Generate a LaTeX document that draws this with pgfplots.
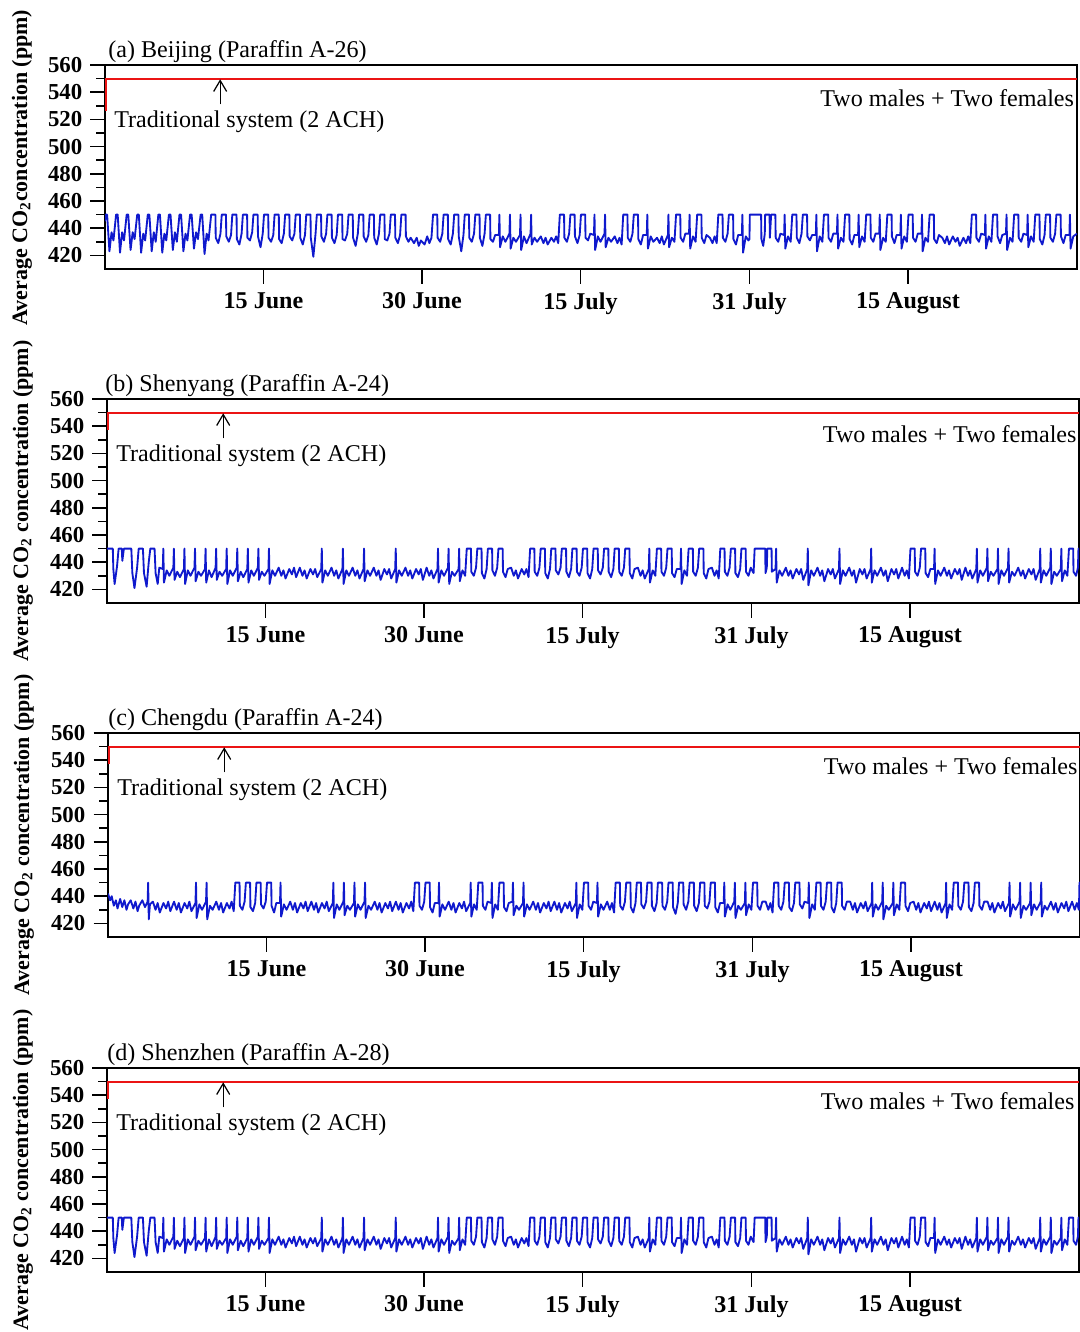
\documentclass[border=0pt]{standalone}
\usepackage{fontspec}
\setmainfont{Liberation Serif}
\usepackage{pgfplots}
\usepackage{pgfplotstable}
\usetikzlibrary{arrows.meta}
\pgfplotsset{compat=1.18}
\definecolor{lineblue}{RGB}{15,25,205}
\definecolor{limred}{RGB}{235,20,20}

\pgfplotstableread[row sep=\\]{
x y\\
0 445\\
0.05 450\\ 0.2 450\\ 0.42 423\\ 0.62 437\\ 0.8 431\\
1.05 450\\ 1.2 450\\ 1.42 422\\ 1.62 437\\ 1.8 431\\
2.05 450\\ 2.2 450\\ 2.42 424\\ 2.62 437\\ 2.8 432\\
3.05 450\\ 3.2 450\\ 3.42 422\\ 3.62 436\\ 3.8 431\\
4.05 450\\ 4.2 450\\ 4.42 423\\ 4.62 437\\ 4.8 430\\
5.05 450\\ 5.2 450\\ 5.42 422\\ 5.62 436\\ 5.8 431\\
6.05 450\\ 6.2 450\\ 6.42 424\\ 6.62 437\\ 6.8 430\\
7.05 450\\ 7.2 450\\ 7.42 423\\ 7.62 436\\ 7.8 431\\
8.05 450\\ 8.2 450\\ 8.42 425\\ 8.62 437\\ 8.8 432\\
9.05 450\\ 9.2 450\\ 9.42 421\\ 9.62 436\\ 9.8 431\\
10.05 450\\ 10.45 450\\ 10.48 433\\ 10.72 429\\ 10.93 436\\
11.05 450\\ 11.45 450\\ 11.48 434\\ 11.72 430\\ 11.93 435\\
12.05 450\\ 12.45 450\\ 12.48 432\\ 12.72 428\\ 12.93 436\\
13.05 450\\ 13.45 450\\ 13.48 433\\ 13.72 431\\ 13.93 437\\
14.05 450\\ 14.45 450\\ 14.48 434\\ 14.72 426\\ 14.93 436\\
15.05 450\\ 15.45 450\\ 15.48 433\\ 15.72 430\\ 15.93 435\\
16.05 450\\ 16.45 450\\ 16.48 432\\ 16.72 429\\ 16.93 436\\
17.05 450\\ 17.45 450\\ 17.48 434\\ 17.72 431\\ 17.93 436\\
18.05 450\\ 18.45 450\\ 18.48 433\\ 18.72 428\\ 18.93 435\\
19.05 450\\ 19.45 450\\ 19.48 433\\ 19.72 419\\ 19.93 436\\
20.05 450\\ 20.45 450\\ 20.48 434\\ 20.72 430\\ 20.93 436\\
21.05 450\\ 21.45 450\\ 21.48 433\\ 21.72 429\\ 21.93 435\\
22.05 450\\ 22.45 450\\ 22.48 432\\ 22.72 431\\ 22.93 436\\
23.05 450\\ 23.45 450\\ 23.48 433\\ 23.72 427\\ 23.93 436\\
24.05 450\\ 24.45 450\\ 24.48 434\\ 24.72 430\\ 24.93 435\\
25.05 450\\ 25.45 450\\ 25.48 433\\ 25.72 428\\ 25.93 436\\
26.05 450\\ 26.45 450\\ 26.48 432\\ 26.72 431\\ 26.93 436\\
27.05 450\\ 27.45 450\\ 27.48 433\\ 27.72 429\\ 27.93 435\\
28.05 450\\ 28.45 450\\ 28.48 434\\ 28.72 430\\ 28.93 433\\
29.25 429\\ 29.5 433\\ 29.7 427\\ 29.9 431\\
30.25 428\\ 30.5 434\\ 30.7 429\\ 30.9 433\\
31.05 450\\ 31.45 450\\ 31.48 433\\ 31.72 430\\ 31.93 436\\
32.05 450\\ 32.45 450\\ 32.48 432\\ 32.72 428\\ 32.93 436\\
33.05 450\\ 33.45 450\\ 33.48 434\\ 33.72 423\\ 33.93 435\\
34.05 450\\ 34.45 450\\ 34.48 433\\ 34.72 430\\ 34.93 436\\
35.05 450\\ 35.45 450\\ 35.48 433\\ 35.72 427\\ 35.93 436\\
36.05 450\\ 36.45 450\\ 36.48 432\\ 36.72 430\\ 36.93 435\\
37.28 435\\ 37.33 450\\ 37.39 426\\ 37.65 434\\ 37.9 430\\
38.28 436\\ 38.33 450\\ 38.39 425\\ 38.65 433\\ 38.9 430\\
39.28 435\\ 39.33 450\\ 39.39 424\\ 39.65 434\\ 39.9 429\\
40.28 436\\ 40.33 450\\ 40.39 428\\ 40.65 433\\ 40.9 430\\
41.25 434\\ 41.5 429\\ 41.7 433\\ 41.9 428\\
42.25 433\\ 42.5 430\\ 42.7 434\\ 42.9 429\\
43.05 450\\ 43.45 450\\ 43.48 433\\ 43.72 430\\ 43.93 436\\
44.05 450\\ 44.45 450\\ 44.48 434\\ 44.72 429\\ 44.93 435\\
45.05 450\\ 45.45 450\\ 45.48 433\\ 45.72 431\\ 45.93 436\\
46.28 435\\ 46.33 450\\ 46.39 424\\ 46.65 434\\ 46.9 430\\
47.28 436\\ 47.33 450\\ 47.39 426\\ 47.65 433\\ 47.9 430\\
48.25 434\\ 48.5 429\\ 48.7 433\\ 48.9 428\\
49.05 450\\ 49.45 450\\ 49.48 433\\ 49.72 430\\ 49.93 436\\
50.05 450\\ 50.45 450\\ 50.48 432\\ 50.72 428\\ 50.93 435\\
51.28 435\\ 51.33 450\\ 51.39 425\\ 51.65 434\\ 51.9 430\\
52.25 433\\ 52.5 429\\ 52.7 434\\ 52.9 428\\
53.28 435\\ 53.33 450\\ 53.39 426\\ 53.65 433\\ 53.9 430\\
54.05 450\\ 54.45 450\\ 54.48 433\\ 54.72 430\\ 54.93 436\\
55.28 436\\ 55.33 450\\ 55.39 425\\ 55.65 434\\ 55.9 430\\
56.05 450\\ 56.45 450\\ 56.48 433\\ 56.72 429\\ 56.93 435\\
57.25 433\\ 57.5 429\\ 57.7 434\\ 57.9 429\\
58.05 450\\ 58.45 450\\ 58.48 433\\ 58.72 430\\ 58.93 436\\
59.05 450\\ 59.45 450\\ 59.48 432\\ 59.72 428\\ 59.93 435\\
60.28 435\\ 60.33 450\\ 60.39 422\\ 60.65 434\\ 60.9 431\\
61.0 432\\ 61.03 450\\ 62.1 450\\ 62.13 432\\ 62.3 427\\ 62.45 436\\ 62.48 450\\ 62.9 450\\ 62.93 433\\
63.05 450\\ 63.45 450\\ 63.48 433\\ 63.72 430\\ 63.93 436\\
64.28 435\\ 64.33 450\\ 64.39 425\\ 64.65 434\\ 64.9 430\\
65.05 450\\ 65.45 450\\ 65.48 433\\ 65.72 429\\ 65.93 436\\
66.05 450\\ 66.45 450\\ 66.48 434\\ 66.72 431\\ 66.93 435\\
67.28 435\\ 67.33 450\\ 67.39 423\\ 67.65 434\\ 67.9 430\\
68.05 450\\ 68.45 450\\ 68.48 433\\ 68.72 430\\ 68.93 436\\
69.28 436\\ 69.33 450\\ 69.39 425\\ 69.65 433\\ 69.9 430\\
70.05 450\\ 70.45 450\\ 70.48 432\\ 70.72 428\\ 70.93 435\\
71.28 435\\ 71.33 450\\ 71.39 426\\ 71.65 434\\ 71.9 430\\
72.05 450\\ 72.45 450\\ 72.48 433\\ 72.72 430\\ 72.93 436\\
73.28 436\\ 73.33 450\\ 73.39 424\\ 73.65 433\\ 73.9 430\\
74.05 450\\ 74.45 450\\ 74.48 434\\ 74.72 429\\ 74.93 435\\
75.28 435\\ 75.33 450\\ 75.39 425\\ 75.65 434\\ 75.9 430\\
76.05 450\\ 76.45 450\\ 76.48 433\\ 76.72 430\\ 76.93 436\\
77.28 436\\ 77.33 450\\ 77.39 423\\ 77.65 433\\ 77.9 430\\
78.05 450\\ 78.45 450\\ 78.48 432\\ 78.72 429\\ 78.93 435\\
79.25 433\\ 79.5 429\\ 79.7 434\\ 79.9 428\\
80.25 434\\ 80.5 430\\ 80.7 433\\ 80.9 427\\
81.25 433\\ 81.5 429\\ 81.7 434\\ 81.9 429\\
82.05 450\\ 82.45 450\\ 82.48 433\\ 82.72 430\\ 82.93 436\\
83.28 435\\ 83.33 450\\ 83.39 425\\ 83.65 434\\ 83.9 430\\
84.05 450\\ 84.45 450\\ 84.48 434\\ 84.72 429\\ 84.93 435\\
85.28 436\\ 85.33 450\\ 85.39 424\\ 85.65 433\\ 85.9 430\\
86.05 450\\ 86.45 450\\ 86.48 433\\ 86.72 430\\ 86.93 436\\
87.28 435\\ 87.33 450\\ 87.39 426\\ 87.65 434\\ 87.9 430\\
88.05 450\\ 88.45 450\\ 88.48 432\\ 88.72 428\\ 88.93 435\\
89.05 450\\ 89.45 450\\ 89.48 433\\ 89.72 430\\ 89.93 436\\
90.05 450\\ 90.45 450\\ 90.48 434\\ 90.72 429\\ 90.93 435\\
91.28 435\\ 91.33 450\\ 91.39 425\\ 91.65 434\\ 92 436\\
}\tabA

\pgfplotstableread[row sep=\\]{
x y\\
0 450\\ 0.55 450\\ 0.6 435\\ 0.72 424\\ 0.95 437\\
1.1 450\\ 1.4 450\\ 1.45 441\\ 1.6 450\\ 2.3 450\\ 2.4 432\\ 2.6 421\\ 2.85 436\\
3.0 450\\ 3.4 450\\ 3.5 432\\ 3.75 422\\ 3.95 440\\
4.1 450\\ 4.5 450\\ 4.6 432\\ 4.8 424\\ 4.95 436\\
5.28 435\\ 5.33 450\\ 5.39 425\\ 5.65 434\\ 5.9 430\\
6.28 436\\ 6.33 450\\ 6.39 427\\ 6.65 433\\ 6.9 429\\
7.28 435\\ 7.33 450\\ 7.39 424\\ 7.65 434\\ 7.9 430\\
8.28 436\\ 8.33 450\\ 8.39 426\\ 8.65 433\\ 8.9 430\\
9.28 435\\ 9.33 450\\ 9.39 425\\ 9.65 434\\ 9.9 429\\
10.28 436\\ 10.33 450\\ 10.39 427\\ 10.65 433\\ 10.9 430\\
11.28 435\\ 11.33 450\\ 11.39 424\\ 11.65 434\\ 11.9 430\\
12.28 436\\ 12.33 450\\ 12.39 426\\ 12.65 433\\ 12.9 429\\
13.28 435\\ 13.33 450\\ 13.39 425\\ 13.65 434\\ 13.9 430\\
14.28 436\\ 14.33 450\\ 14.39 427\\ 14.65 433\\ 14.9 430\\
15.28 435\\ 15.33 450\\ 15.39 424\\ 15.65 434\\ 15.9 430\\
16.25 436\\ 16.5 430\\ 16.7 434\\ 16.9 428\\
17.25 435\\ 17.5 431\\ 17.7 436\\ 17.9 429\\
18.25 436\\ 18.5 430\\ 18.7 434\\ 18.9 428\\
19.25 435\\ 19.5 431\\ 19.7 435\\ 19.9 429\\
20.28 435\\ 20.33 450\\ 20.39 425\\ 20.65 434\\ 20.9 430\\
21.25 436\\ 21.5 430\\ 21.7 434\\ 21.9 428\\
22.28 435\\ 22.33 450\\ 22.39 424\\ 22.65 434\\ 22.9 430\\
23.25 436\\ 23.5 430\\ 23.7 434\\ 23.9 428\\
24.28 435\\ 24.33 450\\ 24.39 426\\ 24.65 434\\ 24.9 430\\
25.25 436\\ 25.5 430\\ 25.7 434\\ 25.9 427\\
26.25 435\\ 26.5 431\\ 26.7 435\\ 26.9 428\\
27.28 435\\ 27.33 450\\ 27.39 425\\ 27.65 434\\ 27.9 430\\
28.25 436\\ 28.5 430\\ 28.7 434\\ 28.9 428\\
29.25 435\\ 29.5 431\\ 29.7 435\\ 29.9 427\\
30.25 436\\ 30.5 430\\ 30.7 434\\ 30.9 428\\
31.28 435\\ 31.33 450\\ 31.39 425\\ 31.65 434\\ 31.9 430\\
32.28 436\\ 32.33 450\\ 32.39 424\\ 32.65 433\\ 32.9 430\\
33.28 435\\ 33.33 450\\ 33.39 426\\ 33.65 434\\ 33.9 430\\
34.05 450\\ 34.45 450\\ 34.48 433\\ 34.72 430\\ 34.93 436\\
35.05 450\\ 35.45 450\\ 35.48 432\\ 35.72 428\\ 35.93 435\\
36.05 450\\ 36.45 450\\ 36.48 434\\ 36.72 430\\ 36.93 436\\
37.05 450\\ 37.45 450\\ 37.48 433\\ 37.72 429\\ 37.93 435\\
38.25 436\\ 38.5 430\\ 38.7 434\\ 38.9 428\\
39.25 435\\ 39.5 431\\ 39.7 435\\ 39.9 429\\
40.05 450\\ 40.45 450\\ 40.48 433\\ 40.72 430\\ 40.93 436\\
41.05 450\\ 41.45 450\\ 41.48 432\\ 41.72 428\\ 41.93 435\\
42.05 450\\ 42.45 450\\ 42.48 434\\ 42.72 431\\ 42.93 436\\
43.05 450\\ 43.45 450\\ 43.48 433\\ 43.72 429\\ 43.93 435\\
44.05 450\\ 44.45 450\\ 44.48 433\\ 44.72 430\\ 44.93 436\\
45.05 450\\ 45.45 450\\ 45.48 432\\ 45.72 428\\ 45.93 435\\
46.05 450\\ 46.45 450\\ 46.48 434\\ 46.72 431\\ 46.93 436\\
47.05 450\\ 47.45 450\\ 47.48 433\\ 47.72 429\\ 47.93 435\\
48.05 450\\ 48.45 450\\ 48.48 433\\ 48.72 430\\ 48.93 436\\
49.05 450\\ 49.45 450\\ 49.48 432\\ 49.72 428\\ 49.93 435\\
50.25 436\\ 50.5 430\\ 50.7 434\\ 50.9 428\\
51.28 435\\ 51.33 450\\ 51.39 425\\ 51.65 434\\ 51.9 430\\
52.05 450\\ 52.45 450\\ 52.48 433\\ 52.72 430\\ 52.93 436\\
53.05 450\\ 53.45 450\\ 53.48 432\\ 53.72 429\\ 53.93 435\\
54.28 435\\ 54.33 450\\ 54.39 424\\ 54.65 434\\ 54.9 430\\
55.05 450\\ 55.45 450\\ 55.48 433\\ 55.72 430\\ 55.93 436\\
56.05 450\\ 56.45 450\\ 56.48 432\\ 56.72 428\\ 56.93 435\\
57.25 436\\ 57.5 430\\ 57.7 434\\ 57.9 428\\
58.05 450\\ 58.45 450\\ 58.48 433\\ 58.72 430\\ 58.93 436\\
59.05 450\\ 59.45 450\\ 59.48 432\\ 59.72 429\\ 59.93 435\\
60.05 450\\ 60.45 450\\ 60.48 433\\ 60.72 430\\ 60.93 436\\
61.2 432\\ 61.3 450\\ 62.3 450\\ 62.33 432\\ 62.45 436\\ 62.5 450\\ 62.9 450\\ 62.93 433\\
63.28 435\\ 63.33 450\\ 63.39 425\\ 63.65 434\\ 63.9 430\\
64.25 436\\ 64.5 430\\ 64.7 434\\ 64.9 428\\
65.25 435\\ 65.5 431\\ 65.7 435\\ 65.9 427\\
66.28 435\\ 66.33 450\\ 66.39 423\\ 66.65 434\\ 66.9 430\\
67.25 436\\ 67.5 430\\ 67.7 434\\ 67.9 426\\
68.25 435\\ 68.5 431\\ 68.7 435\\ 68.9 428\\
69.28 435\\ 69.33 450\\ 69.39 424\\ 69.65 434\\ 69.9 430\\
70.25 436\\ 70.5 430\\ 70.7 434\\ 70.9 425\\
71.25 435\\ 71.5 431\\ 71.7 435\\ 71.9 428\\
72.28 435\\ 72.33 450\\ 72.39 425\\ 72.65 434\\ 72.9 430\\
73.25 436\\ 73.5 430\\ 73.7 434\\ 73.9 426\\
74.25 435\\ 74.5 431\\ 74.7 435\\ 74.9 428\\
75.25 436\\ 75.5 430\\ 75.7 434\\ 75.9 428\\
76.05 450\\ 76.45 450\\ 76.48 433\\ 76.72 430\\ 76.93 436\\
77.05 450\\ 77.45 450\\ 77.48 432\\ 77.72 429\\ 77.93 435\\
78.28 435\\ 78.33 450\\ 78.39 424\\ 78.65 434\\ 78.9 430\\
79.25 436\\ 79.5 430\\ 79.7 434\\ 79.9 428\\
80.25 435\\ 80.5 431\\ 80.7 435\\ 80.9 427\\
81.25 436\\ 81.5 430\\ 81.7 434\\ 81.9 428\\
82.28 435\\ 82.33 450\\ 82.39 425\\ 82.65 434\\ 82.9 430\\
83.28 436\\ 83.33 450\\ 83.39 426\\ 83.65 433\\ 83.9 430\\
84.28 435\\ 84.33 450\\ 84.39 424\\ 84.65 434\\ 84.9 430\\
85.28 436\\ 85.33 450\\ 85.39 425\\ 85.65 433\\ 85.9 430\\
86.25 436\\ 86.5 430\\ 86.7 434\\ 86.9 428\\
87.25 435\\ 87.5 431\\ 87.7 435\\ 87.9 427\\
88.28 435\\ 88.33 450\\ 88.39 425\\ 88.65 434\\ 88.9 430\\
89.28 436\\ 89.33 450\\ 89.39 424\\ 89.65 433\\ 89.9 430\\
90.28 435\\ 90.33 450\\ 90.39 426\\ 90.65 434\\ 90.9 430\\
91.05 450\\ 91.45 450\\ 91.48 433\\ 91.72 430\\ 91.9 436\\ 91.95 450\\ 92 450\\
}\tabB

\pgfplotstableread[row sep=\\]{
x y\\
0 442\\ 0.2 437\\ 0.35 440\\ 0.55 433\\ 0.75 437\\ 0.9 431\\
1.15 438\\ 1.35 432\\ 1.55 437\\ 1.75 430\\ 1.9 434\\
2.15 437\\ 2.4 431\\ 2.6 436\\ 2.8 429\\ 2.95 433\\
3.25 437\\ 3.5 432\\ 3.75 436\\ 3.8 450\\ 3.86 423\\ 3.97 434\\
4.25 436\\ 4.5 430\\ 4.7 435\\ 4.9 428\\
5.25 435\\ 5.5 431\\ 5.7 436\\ 5.9 429\\
6.25 436\\ 6.5 430\\ 6.7 435\\ 6.9 428\\
7.25 435\\ 7.5 431\\ 7.7 436\\ 7.9 429\\
8.28 435\\ 8.33 450\\ 8.39 424\\ 8.65 434\\ 8.9 430\\
9.28 436\\ 9.33 450\\ 9.39 423\\ 9.65 433\\ 9.9 430\\
10.25 436\\ 10.5 430\\ 10.7 435\\ 10.9 428\\
11.25 435\\ 11.5 431\\ 11.7 436\\ 11.9 429\\
12.05 450\\ 12.45 450\\ 12.48 433\\ 12.72 430\\ 12.93 436\\
13.05 450\\ 13.45 450\\ 13.48 432\\ 13.72 429\\ 13.93 435\\
14.05 450\\ 14.45 450\\ 14.48 434\\ 14.72 431\\ 14.93 436\\
15.05 450\\ 15.45 450\\ 15.48 433\\ 15.72 428\\ 15.93 435\\
16.28 435\\ 16.33 450\\ 16.39 425\\ 16.65 434\\ 16.9 430\\
17.25 436\\ 17.5 430\\ 17.7 435\\ 17.9 428\\
18.25 435\\ 18.5 431\\ 18.7 436\\ 18.9 429\\
19.25 436\\ 19.5 430\\ 19.7 435\\ 19.9 428\\
20.25 435\\ 20.5 431\\ 20.7 436\\ 20.9 429\\
21.28 435\\ 21.33 450\\ 21.39 424\\ 21.65 434\\ 21.9 430\\
22.28 436\\ 22.33 450\\ 22.39 426\\ 22.65 433\\ 22.9 430\\
23.28 435\\ 23.33 450\\ 23.39 425\\ 23.65 434\\ 23.9 430\\
24.28 436\\ 24.33 450\\ 24.39 424\\ 24.65 433\\ 24.9 430\\
25.25 436\\ 25.5 430\\ 25.7 435\\ 25.9 428\\
26.25 435\\ 26.5 431\\ 26.7 436\\ 26.9 429\\
27.25 436\\ 27.5 430\\ 27.7 435\\ 27.9 428\\
28.25 435\\ 28.5 431\\ 28.7 436\\ 28.9 429\\
29.05 450\\ 29.45 450\\ 29.48 433\\ 29.72 430\\ 29.93 436\\
30.05 450\\ 30.45 450\\ 30.48 432\\ 30.72 428\\ 30.93 435\\
31.28 435\\ 31.33 450\\ 31.39 425\\ 31.65 434\\ 31.9 430\\
32.25 436\\ 32.5 430\\ 32.7 435\\ 32.9 428\\
33.25 435\\ 33.5 431\\ 33.7 436\\ 33.9 429\\
34.28 435\\ 34.33 450\\ 34.39 425\\ 34.65 434\\ 34.9 430\\
35.05 450\\ 35.45 450\\ 35.48 433\\ 35.72 430\\ 35.93 436\\
36.28 435\\ 36.33 450\\ 36.39 424\\ 36.65 434\\ 36.9 430\\
37.05 450\\ 37.45 450\\ 37.48 432\\ 37.72 429\\ 37.93 435\\
38.28 436\\ 38.33 450\\ 38.39 426\\ 38.65 433\\ 38.9 430\\
39.28 435\\ 39.33 450\\ 39.39 425\\ 39.65 434\\ 39.9 430\\
40.25 436\\ 40.5 430\\ 40.7 435\\ 40.9 428\\
41.25 435\\ 41.5 431\\ 41.7 436\\ 41.9 429\\
42.25 436\\ 42.5 430\\ 42.7 435\\ 42.9 428\\
43.25 435\\ 43.5 431\\ 43.7 436\\ 43.9 429\\
44.28 435\\ 44.33 450\\ 44.39 424\\ 44.65 434\\ 44.9 430\\
45.05 450\\ 45.45 450\\ 45.48 433\\ 45.72 430\\ 45.93 436\\
46.28 435\\ 46.33 450\\ 46.39 425\\ 46.65 434\\ 46.9 430\\
47.25 436\\ 47.5 430\\ 47.7 435\\ 47.9 428\\
48.05 450\\ 48.45 450\\ 48.48 433\\ 48.72 430\\ 48.93 436\\
49.05 450\\ 49.45 450\\ 49.48 432\\ 49.72 428\\ 49.93 435\\
50.05 450\\ 50.45 450\\ 50.48 434\\ 50.72 431\\ 50.93 436\\
51.05 450\\ 51.45 450\\ 51.48 433\\ 51.72 429\\ 51.93 435\\
52.05 450\\ 52.45 450\\ 52.48 433\\ 52.72 430\\ 52.93 436\\
53.05 450\\ 53.45 450\\ 53.48 432\\ 53.72 427\\ 53.93 435\\
54.05 450\\ 54.45 450\\ 54.48 434\\ 54.72 430\\ 54.93 436\\
55.05 450\\ 55.45 450\\ 55.48 433\\ 55.72 429\\ 55.93 435\\
56.05 450\\ 56.45 450\\ 56.48 433\\ 56.72 431\\ 56.93 436\\
57.05 450\\ 57.45 450\\ 57.48 432\\ 57.72 428\\ 57.93 435\\
58.28 435\\ 58.33 450\\ 58.39 425\\ 58.65 434\\ 58.9 430\\
59.28 436\\ 59.33 450\\ 59.39 424\\ 59.65 433\\ 59.9 430\\
60.28 435\\ 60.33 450\\ 60.39 426\\ 60.65 434\\ 60.9 430\\
61.05 450\\ 61.45 450\\ 61.48 433\\ 61.72 430\\ 61.93 436\\
62.25 436\\ 62.5 430\\ 62.7 435\\ 62.9 428\\
63.05 450\\ 63.45 450\\ 63.48 433\\ 63.72 430\\ 63.93 436\\
64.05 450\\ 64.45 450\\ 64.48 432\\ 64.72 429\\ 64.93 435\\
65.05 450\\ 65.45 450\\ 65.48 434\\ 65.72 431\\ 65.93 436\\
66.28 435\\ 66.33 450\\ 66.39 424\\ 66.65 434\\ 66.9 430\\
67.05 450\\ 67.45 450\\ 67.48 433\\ 67.72 430\\ 67.93 436\\
68.05 450\\ 68.45 450\\ 68.48 432\\ 68.72 428\\ 68.93 435\\
69.05 450\\ 69.45 450\\ 69.48 433\\ 69.72 430\\ 69.93 436\\
70.25 436\\ 70.5 430\\ 70.7 435\\ 70.9 428\\
71.25 435\\ 71.5 431\\ 71.7 436\\ 71.9 429\\
72.28 435\\ 72.33 450\\ 72.39 425\\ 72.65 434\\ 72.9 430\\
73.28 436\\ 73.33 450\\ 73.39 423\\ 73.65 433\\ 73.9 430\\
74.28 435\\ 74.33 450\\ 74.39 426\\ 74.65 434\\ 74.9 430\\
75.05 450\\ 75.45 450\\ 75.48 433\\ 75.72 429\\ 75.93 435\\
76.25 436\\ 76.5 430\\ 76.7 435\\ 76.9 428\\
77.25 435\\ 77.5 431\\ 77.7 436\\ 77.9 429\\
78.25 436\\ 78.5 430\\ 78.7 435\\ 78.9 428\\
79.28 435\\ 79.33 450\\ 79.39 424\\ 79.65 434\\ 79.9 430\\
80.05 450\\ 80.45 450\\ 80.48 433\\ 80.72 430\\ 80.93 436\\
81.05 450\\ 81.45 450\\ 81.48 432\\ 81.72 429\\ 81.93 435\\
82.05 450\\ 82.45 450\\ 82.48 433\\ 82.72 430\\ 82.93 436\\
83.25 436\\ 83.5 430\\ 83.7 435\\ 83.9 428\\
84.25 435\\ 84.5 431\\ 84.7 436\\ 84.9 429\\
85.28 435\\ 85.33 450\\ 85.39 425\\ 85.65 434\\ 85.9 430\\
86.28 436\\ 86.33 450\\ 86.39 424\\ 86.65 433\\ 86.9 430\\
87.28 435\\ 87.33 450\\ 87.39 426\\ 87.65 434\\ 87.9 430\\
88.28 436\\ 88.33 450\\ 88.39 425\\ 88.65 433\\ 88.9 430\\
89.25 436\\ 89.5 430\\ 89.7 435\\ 89.9 428\\
90.25 435\\ 90.5 431\\ 90.7 436\\ 90.9 429\\
91.25 436\\ 91.5 430\\ 91.7 435\\ 91.9 430\\ 91.95 450\\ 92 450\\
}\tabC

\newcommand{\txtfont}{\fontsize{13.7}{16}\selectfont}
\newcommand{\lblfont}{\bfseries\fontsize{12.5}{14}\selectfont}
\newcommand{\tickfont}{\bfseries\fontsize{13}{15}\selectfont}

\tikzset{
  arr/.style={-{Straight Barb[length=2.2mm, width=2.6mm, line width=0.7pt]}, line width=0.75pt, black},
}
\pgfplotsset{
  panel/.style={
    scale only axis, width=19.44cm, height=4.08cm,
    xmin=0, xmax=92, ymin=410, ymax=560,
    clip mode=individual,
    xtick={15,30,45,61,76},
    xticklabels={15 June,30 June,15 July,31 July,15 August},
    ytick={420,440,...,560},
    minor ytick={430,450,...,550},
    tick align=outside, xtick pos=bottom, ytick pos=left,
    major tick length=0.29cm, minor tick length=0.18cm,
    tick style={line width=1pt, black},
    axis line style={line width=1.1pt},
    yticklabel style={font=\tickfont, xshift=-0.04cm},
    xticklabel style={font=\bfseries\txtfont, yshift=-0.06cm},
    /pgf/number format/assume math mode=true,
    /pgf/number format/1000 sep={},
  },
  sig/.style={lineblue, line width=1.05pt, line join=round, no markers},
  lim/.style={limred, line width=1.15pt, no markers},
}

\begin{document}
\begin{tikzpicture}
\path[use as bounding box] (0,0) rectangle (21.6,-26.64);

% (a)
\begin{axis}[panel, at={(2.10cm,-1.30cm)}, anchor=north west]
\addplot[sig] table[x=x,y=y] {\tabA};
\addplot[lim] coordinates {(0.1,526) (0.1,550) (92,550)};
\draw[arr] (axis cs:10.9,531) -- (axis cs:10.9,549.5);
\node[anchor=west, inner sep=0, font=\txtfont] at (axis cs:0.85,518.5) {Traditional system (2 ACH)};
\node[anchor=east, inner sep=0, font=\txtfont] at (axis cs:91.75,535.8) {Two males + Two females};
\end{axis}
\node[anchor=base west, inner sep=0, font=\txtfont] at (2.16,-1.14) {(a) Beijing (Paraffin A-26)};
\node[rotate=90, font=\lblfont] at (0.44,-3.35) {Average CO\textsubscript{2}concentration (ppm)};

% (b)
\begin{axis}[panel, at={(2.14cm,-7.98cm)}, anchor=north west]
\addplot[sig] table[x=x,y=y] {\tabB};
\addplot[lim] coordinates {(0.1,537) (0.1,550) (92,550)};
\draw[arr] (axis cs:11.0,531) -- (axis cs:11.0,549.5);
\node[anchor=west, inner sep=0, font=\txtfont] at (axis cs:0.85,518.5) {Traditional system (2 ACH)};
\node[anchor=east, inner sep=0, font=\txtfont] at (axis cs:91.8,534.5) {Two males + Two females};
\end{axis}
\node[anchor=base west, inner sep=0, font=\txtfont] at (2.10,-7.82) {(b) Shenyang (Paraffin A-24)};
\node[rotate=90, font=\lblfont] at (0.46,-10.02) {Average CO\textsubscript{2} concentration (ppm)};

% (c)
\begin{axis}[panel, at={(2.16cm,-14.66cm)}, anchor=north west]
\addplot[sig] table[x=x,y=y] {\tabC};
\addplot[lim] coordinates {(0.1,537) (0.1,550) (92,550)};
\draw[arr] (axis cs:11.0,531) -- (axis cs:11.0,549.5);
\node[anchor=west, inner sep=0, font=\txtfont] at (axis cs:0.85,518.5) {Traditional system (2 ACH)};
\node[anchor=east, inner sep=0, font=\txtfont] at (axis cs:91.8,535.5) {Two males + Two females};
\end{axis}
\node[anchor=base west, inner sep=0, font=\txtfont] at (2.16,-14.50) {(c) Chengdu (Paraffin A-24)};
\node[rotate=90, font=\lblfont] at (0.48,-16.70) {Average CO\textsubscript{2} concentration (ppm)};

% (d)
\begin{axis}[panel, at={(2.14cm,-21.36cm)}, anchor=north west]
\addplot[sig] table[x=x,y=y] {\tabB};
\addplot[lim] coordinates {(0.1,537) (0.1,550) (92,550)};
\draw[arr] (axis cs:11.0,531) -- (axis cs:11.0,549.5);
\node[anchor=west, inner sep=0, font=\txtfont] at (axis cs:0.85,518.5) {Traditional system (2 ACH)};
\node[anchor=east, inner sep=0, font=\txtfont] at (axis cs:91.6,535.5) {Two males + Two females};
\end{axis}
\node[anchor=base west, inner sep=0, font=\txtfont] at (2.14,-21.20) {(d) Shenzhen (Paraffin A-28)};
\node[rotate=90, font=\lblfont] at (0.46,-23.40) {Average CO\textsubscript{2} concentration (ppm)};
\end{tikzpicture}
\end{document}
